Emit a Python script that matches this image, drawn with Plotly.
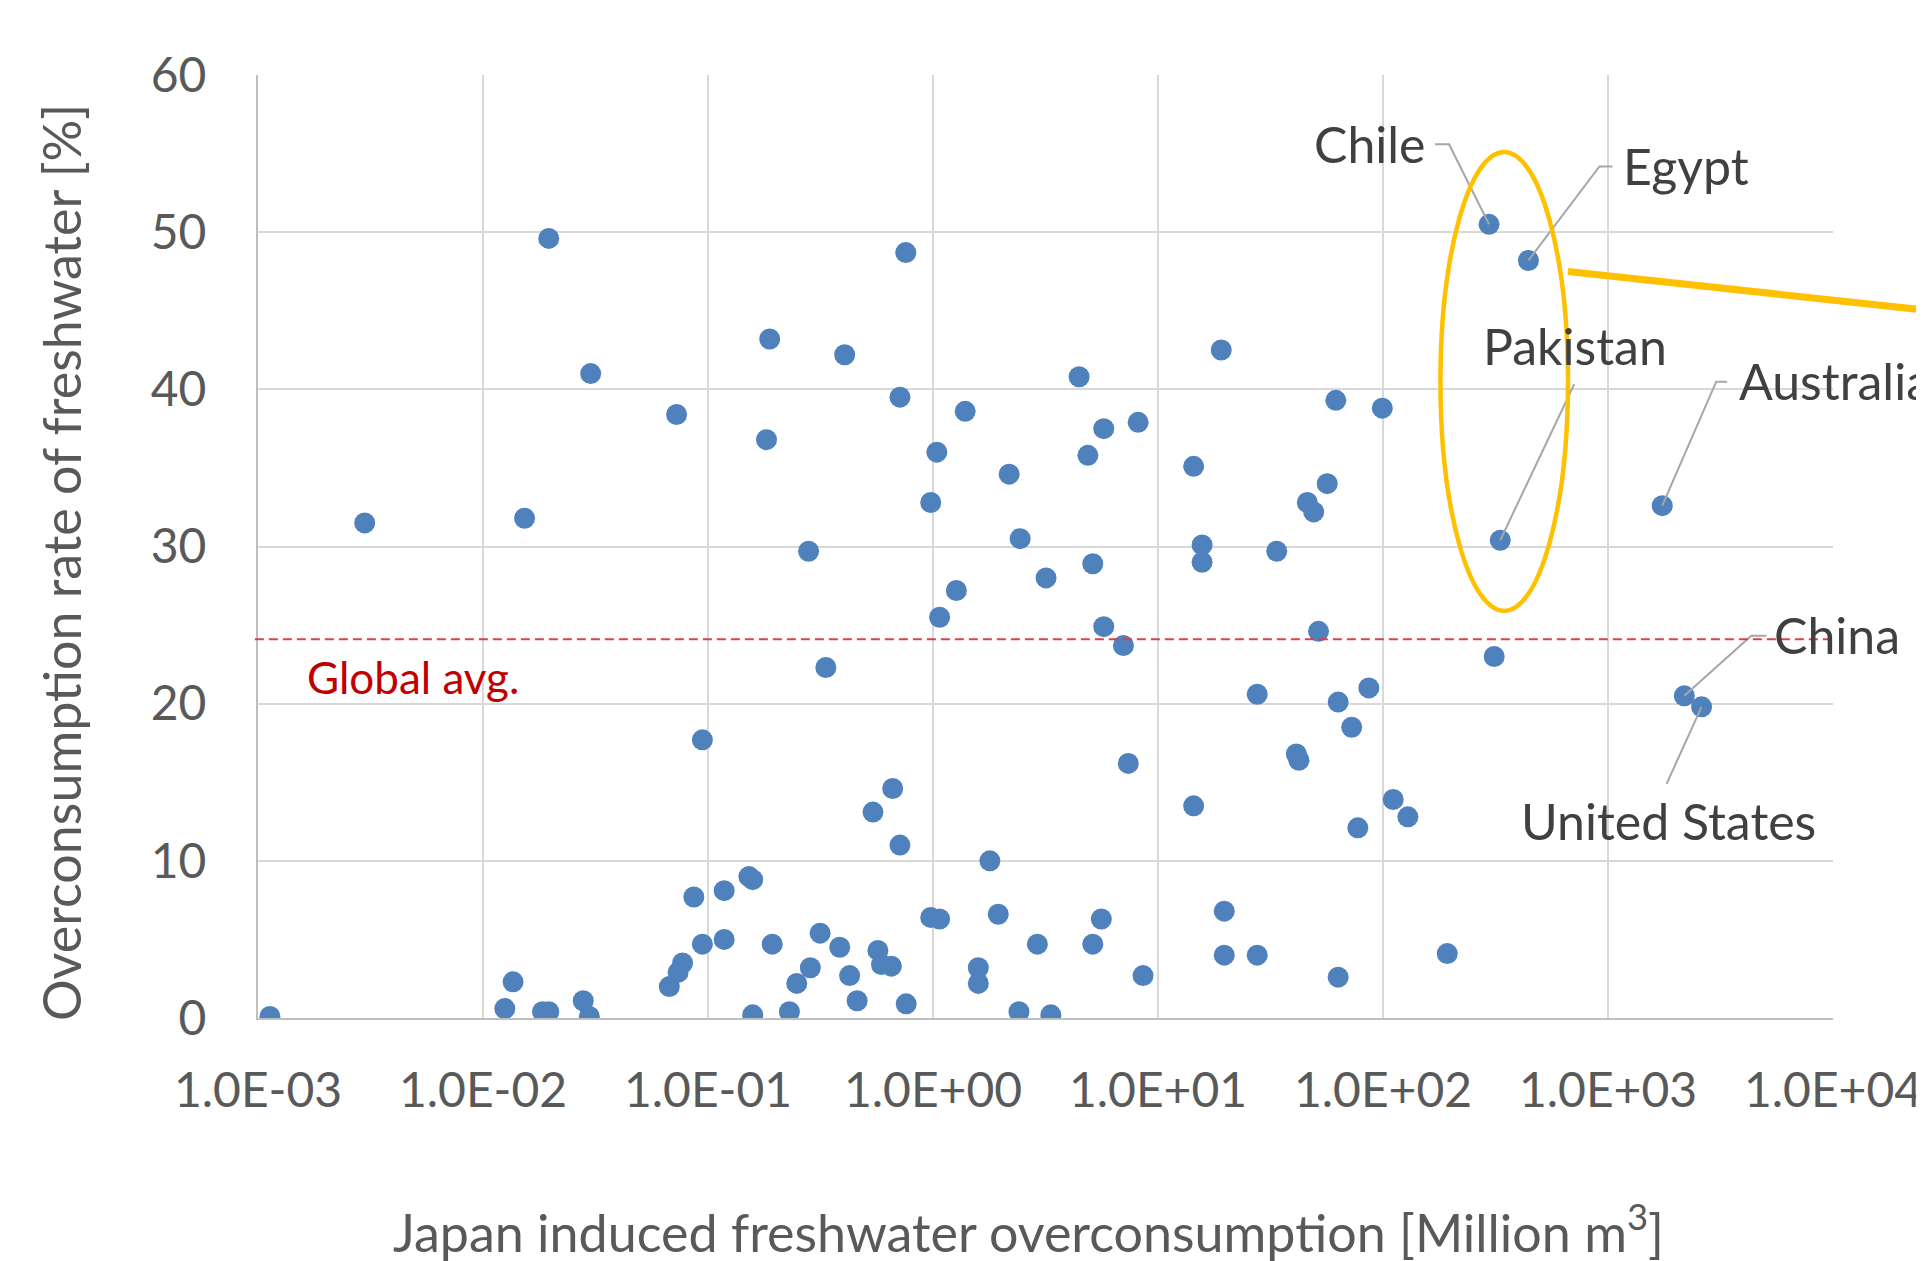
import math
import plotly.graph_objects as go

# ---- data (x: Japan induced freshwater overconsumption [Million m3], y: overconsumption rate [%])
x_vals = [0.00113, 0.00298, 0.0136, 0.0125, 0.0153, 0.0196, 0.0184, 0.0196, 0.0279, 0.0297,
          0.0301, 0.0673, 0.0736, 0.0771, 0.0725, 0.0865, 0.0944, 0.0944, 0.118, 0.118,
          0.152, 0.158, 0.158, 0.182, 0.188, 0.193, 0.230, 0.248, 0.280, 0.285,
          0.315, 0.334, 0.385, 0.405, 0.426, 0.460, 0.541, 0.569, 0.590, 0.653,
          0.662, 0.713, 0.713, 0.760, 0.757, 0.977, 0.977, 1.07, 1.04, 1.07,
          1.27, 1.39, 1.59, 1.59, 1.79, 1.95, 2.18, 2.41, 2.44, 2.91,
          3.18, 3.34, 4.46, 4.88, 5.13, 5.13, 5.60, 5.74, 5.74, 7.02,
          7.38, 8.16, 8.58, 14.4, 14.4, 15.7, 15.7, 19.1, 19.7, 19.7,
          27.6, 27.6, 33.7, 41.2, 42.3, 46.1, 49.2, 51.7, 56.5, 61.7,
          63.2, 63.2, 72.6, 77.3, 86.5, 99.3, 111, 129, 193, 312]
y_vals = [0.1, 31.5, 2.3, 0.6, 31.8, 49.6, 0.4, 0.4, 1.1, 0.1,
          41.0, 2.0, 2.9, 3.5, 38.4, 7.7, 4.7, 17.7, 8.1, 5.0,
          9.0, 8.8, 0.2, 36.8, 43.2, 4.7, 0.4, 2.2, 29.7, 3.2,
          5.4, 22.3, 4.5, 42.2, 2.7, 1.1, 13.1, 4.3, 3.4, 3.3,
          14.6, 11.0, 39.5, 0.9, 48.7, 32.8, 6.4, 6.3, 36.0, 25.5,
          27.2, 38.6, 3.2, 2.2, 10.0, 6.6, 34.6, 0.4, 30.5, 4.7,
          28.0, 0.2, 40.8, 35.8, 28.9, 4.7, 6.3, 24.9, 37.5, 23.7,
          16.2, 37.9, 2.7, 35.1, 13.5, 30.1, 29.0, 42.5, 6.8, 4.0,
          20.6, 4.0, 29.7, 16.8, 16.4, 32.8, 32.2, 24.6, 34.0, 39.3,
          20.1, 2.6, 18.5, 12.1, 21.0, 38.8, 13.9, 12.8, 4.1, 23.0]

label_names = ["Chile", "Egypt", "Pakistan", "Australia", "China", "United States"]
label_x = [296, 443, 332, 1742, 2183, 2606]
label_y = [50.5, 48.2, 30.4, 32.6, 20.5, 19.8]

global_avg = 24.1

x_tickvals = [1e-3, 1e-2, 1e-1, 1e0, 1e1, 1e2, 1e3, 1e4]
x_ticktext = ["1.0E-03", "1.0E-02", "1.0E-01", "1.0E+00", "1.0E+01", "1.0E+02", "1.0E+03", "1.0E+04"]
y_tickvals = [0, 10, 20, 30, 40, 50, 60]

# highlighted group (ellipse) in data units
ellipse_x = [180, 664]
ellipse_y = [25.9, 55.1]

FONT = "Lato"
TICK_COLOR = "#595959"
LABEL_COLOR = "#404040"
LEADER_COLOR = "#a6a6a6"

fig = go.Figure()
fig.add_trace(go.Scatter(
    x=x_vals + label_x, y=y_vals + label_y, mode="markers",
    marker=dict(size=21, color="#4f81bd", line=dict(width=0)),
    hoverinfo="x+y", showlegend=False))

# label styling: (xanchor, xshift, yshift) and leader path (pixel offsets from the point, y up)
label_style = {
    "Chile": ("right", -61, 80, "M0,0 L-40,80 L-54,80"),
    "Egypt": ("left", 93, 94, "M0,0 L71,94 L84,94"),
    "Pakistan": ("center", 75, 194, "M0,0 L74,156"),
    "Australia": ("left", 75, 125, "M0,0 L54,124 L65,124"),
    "China": ("left", 88, 61, "M0,0 L67,60 L82,60"),
    "United States": ("center", -33, -114, "M0,0 L-35,-77"),
}

shapes = []
annotations = []
for name, lx, ly in zip(label_names, label_x, label_y):
    xa, xs, ys, path = label_style[name]
    shapes.append(dict(type="path", xref="x", yref="y", xsizemode="pixel", ysizemode="pixel",
                       xanchor=lx, yanchor=ly, path=path,
                       line=dict(color=LEADER_COLOR, width=2), layer="above"))
    annotations.append(dict(x=math.log10(lx), y=ly, xref="x", yref="y", text=name,
                            showarrow=False, xanchor=xa, yanchor="middle", xshift=xs, yshift=ys,
                            font=dict(family=FONT, size=50, color=LABEL_COLOR)))

# global average line
shapes.append(dict(type="line", xref="paper", yref="y", x0=-0.002, x1=1.0, y0=global_avg, y1=global_avg,
                   line=dict(color="#de4040", width=2, dash="9px,5px"), layer="above"))
annotations.append(dict(x=-2.792, y=21.7, xref="x", yref="y", text="Global avg.", showarrow=False,
                        xanchor="left", yanchor="middle",
                        font=dict(family=FONT, size=44, color="#c00000")))

# yellow ellipse and pointer line
shapes.append(dict(type="circle", xref="x", yref="y", x0=ellipse_x[0], x1=ellipse_x[1],
                   y0=ellipse_y[0], y1=ellipse_y[1], line=dict(color="#ffc000", width=4.5), layer="above"))
shapes.append(dict(type="line", xref="paper", yref="paper", x0=0.8317, y0=0.7917, x1=1.08, y1=0.7468,
                   line=dict(color="#ffc000", width=7), layer="above"))

# axis titles
annotations.append(dict(x=-0.1251, y=0.4836, xref="paper", yref="paper",
                        text="Overconsumption rate of freshwater [%]", textangle=-90,
                        showarrow=False, xanchor="center", yanchor="middle",
                        font=dict(family=FONT, size=52, color=TICK_COLOR)))
annotations.append(dict(x=0.4889, y=-0.2227, xref="paper", yref="paper",
                        text="Japan induced freshwater overconsumption [Million m<sup>3</sup>]",
                        showarrow=False, xanchor="center", yanchor="middle",
                        font=dict(family=FONT, size=52, color=TICK_COLOR)))

# the page places the figure 8 px from the top-left corner; size/margins compensate
fig.update_layout(
    width=1916, height=1253,
    margin=dict(l=250, r=91, t=67, b=243, autoexpand=False),
    paper_bgcolor="white", plot_bgcolor="white",
    font=dict(family=FONT, color=TICK_COLOR),
    shapes=shapes, annotations=annotations,
    showlegend=False,
)
fig.update_xaxes(type="log", range=[-3, 4], tickvals=x_tickvals, ticktext=x_ticktext,
                 showgrid=True, gridcolor="#d9d9d9", gridwidth=2,
                 showline=True, linecolor="#bfbfbf", linewidth=2, ticks="",
                 tickfont=dict(family=FONT, size=48, color=TICK_COLOR),
                 ticklabelstandoff=29, zeroline=False)
fig.update_yaxes(range=[0, 60], tickvals=y_tickvals,
                 showgrid=True, gridcolor="#d9d9d9", gridwidth=2,
                 showline=True, linecolor="#bfbfbf", linewidth=2, ticks="",
                 tickfont=dict(family=FONT, size=48, color=TICK_COLOR),
                 ticklabelstandoff=40, zeroline=False)

fig.write_html("out.html")
